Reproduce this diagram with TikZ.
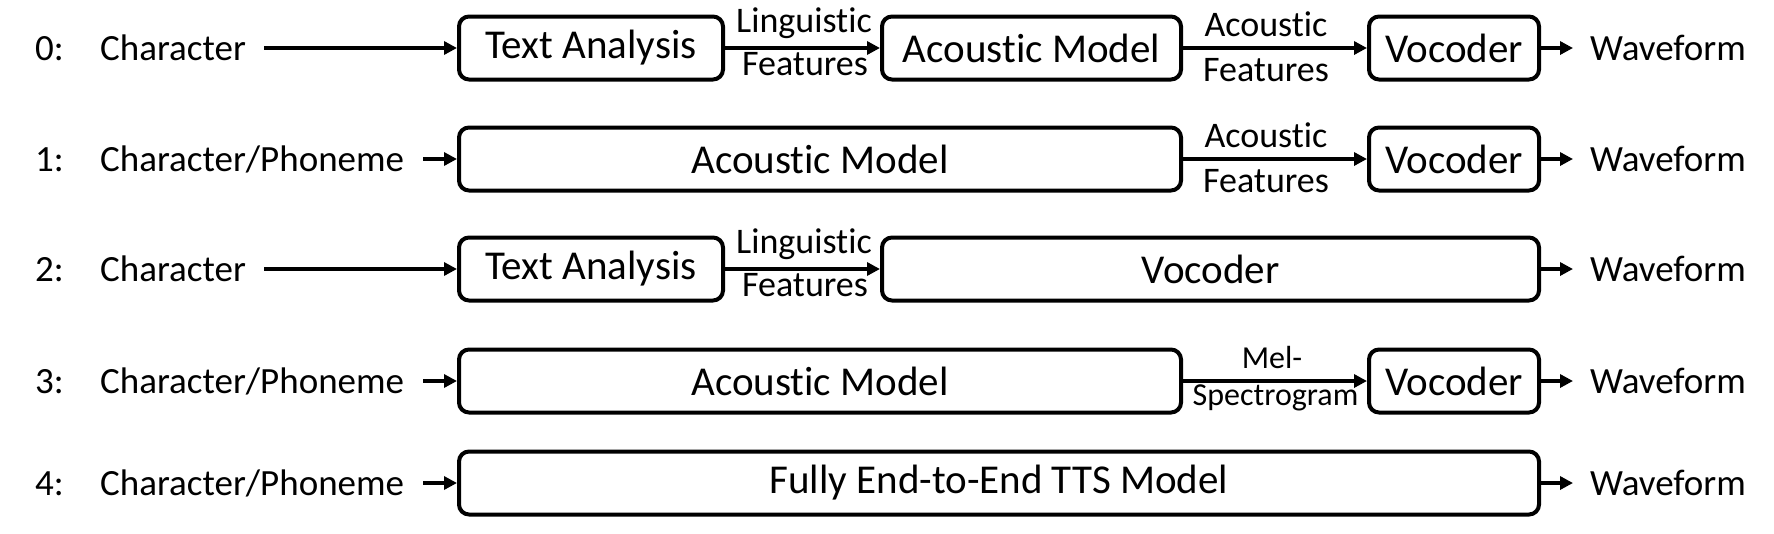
\documentclass[tikz,border=0pt]{standalone}
\usepackage{fontspec}
\setmainfont{Carlito}[Ligatures={NoCommon}]
\usetikzlibrary{arrows.meta}
\tikzset{
  blk/.style={draw, line width=4pt, rounded corners=10pt, minimum height=63pt, inner sep=0pt, font=\fontsize{41}{49}\selectfont},
  side/.style={inner sep=0pt, anchor=base west, font=\fontsize{37}{44}\selectfont},
  lbl/.style={inner sep=0pt, anchor=base, font=\fontsize{36}{43}\selectfont},
  slbl/.style={inner sep=0pt, anchor=base, font=\fontsize{32}{38}\selectfont},
  conn/.style={line width=4pt, -{Triangle[length=13pt,width=13pt]}},
}
\begin{document}
\begin{tikzpicture}[x=1pt,y=-1pt]
\useasboundingbox (0,0) rectangle (1774,533);
% ---------- row 0 ----------
\node[side] (n0) at (35,60) {0:};
\node[side] (c0) at (100,60) {Character};
\node[blk, minimum width=264pt] (ta0) at (591,48) {Text Analysis};
\node[blk, minimum width=299pt] (am0) at (1031.5,48) {Acoustic Model};
\node[blk, minimum width=170pt] (vo0) at (1454,48) {Vocoder};
\node[side] (w0) at (1590,60) {Waveform};
\node[lbl] (l0a) at (804,32) {Linguistic};
\node[lbl] (l0b) at (805,75) {Features};
\node[lbl] (a0a) at (1266,36) {Acoustic};
\node[lbl] (a0b) at (1266,81) {Features};
\draw[conn, shorten <=18pt] (c0.east |- ta0.west) -- (ta0.west);
\draw[conn] (ta0) -- (am0);
\draw[conn] (am0) -- (vo0);
\draw[conn, shorten >=17pt] (vo0.east) -- (vo0.east -| w0.west);
% ---------- row 1 ----------
\node[side] (n1) at (35,171) {1:};
\node[side] (c1) at (100,171) {Character/Phoneme};
\node[blk, minimum width=722pt] (am1) at (820,159) {Acoustic Model};
\node[blk, minimum width=170pt] (vo1) at (1454,159) {Vocoder};
\node[side] (w1) at (1590,171) {Waveform};
\node[lbl] (a1a) at (1266,147) {Acoustic};
\node[lbl] (a1b) at (1266,192) {Features};
\draw[conn, shorten <=19pt] (c1.east |- am1.west) -- (am1.west);
\draw[conn] (am1) -- (vo1);
\draw[conn, shorten >=17pt] (vo1.east) -- (vo1.east -| w1.west);
% ---------- row 2 ----------
\node[side] (n2) at (35,281) {2:};
\node[side] (c2) at (100,281) {Character};
\node[blk, minimum width=264pt] (ta2) at (591,269) {Text Analysis};
\node[blk, minimum width=657pt] (vo2) at (1210.5,269) {Vocoder};
\node[side] (w2) at (1590,281) {Waveform};
\node[lbl] (l2a) at (804,253) {Linguistic};
\node[lbl] (l2b) at (805,296) {Features};
\draw[conn, shorten <=18pt] (c2.east |- ta2.west) -- (ta2.west);
\draw[conn] (ta2) -- (vo2);
\draw[conn, shorten >=17pt] (vo2.east) -- (vo2.east -| w2.west);
% ---------- row 3 ----------
\node[side] (n3) at (35,393) {3:};
\node[side] (c3) at (100,393) {Character/Phoneme};
\node[blk, minimum width=722pt] (am3) at (820,381) {Acoustic Model};
\node[blk, minimum width=170pt] (vo3) at (1454,381) {Vocoder};
\node[side] (w3) at (1590,393) {Waveform};
\node[slbl] (m3a) at (1272,368) {Mel-};
\node[slbl] (m3b) at (1275.5,405) {Spectrogram};
\draw[conn, shorten <=19pt] (c3.east |- am3.west) -- (am3.west);
\draw[conn] (am3) -- (vo3);
\draw[conn, shorten >=17pt] (vo3.east) -- (vo3.east -| w3.west);
% ---------- row 4 ----------
\node[side] (n4) at (35,495) {4:};
\node[side] (c4) at (100,495) {Character/Phoneme};
\node[blk, minimum width=1080pt] (tts4) at (999,483) {Fully End-to-End TTS Model};
\node[side] (w4) at (1590,495) {Waveform};
\draw[conn, shorten <=19pt] (c4.east |- tts4.west) -- (tts4.west);
\draw[conn, shorten >=17pt] (tts4.east) -- (tts4.east -| w4.west);
\end{tikzpicture}
\end{document}
